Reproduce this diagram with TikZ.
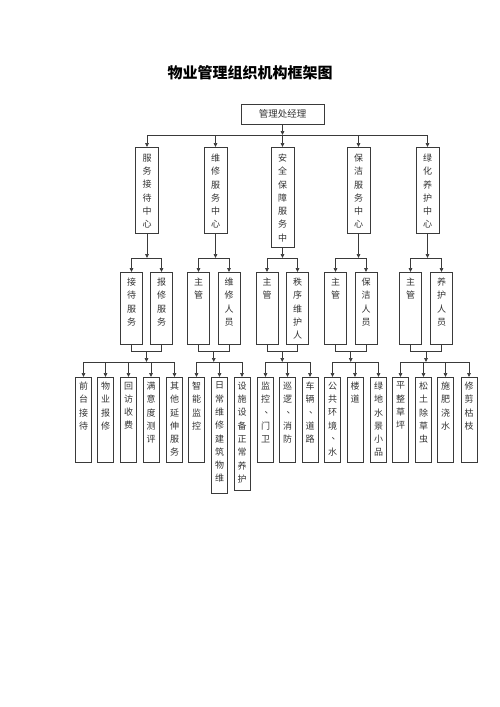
\documentclass[tikz,border=0pt]{standalone}
\usepackage{fontspec}
\setmainfont{Noto Sans CJK SC}
\usetikzlibrary{arrows.meta,calc}
\definecolor{linec}{HTML}{3A3A3A}
\definecolor{txtc}{HTML}{333333}
\newcommand{\vstk}[1]{\vstkA#1\relax}
\def\vstkA#1#2\relax{#1\ifx\relax#2\relax\else\par\vstkA#2\relax\fi}
\newcommand{\vt}[4]{\parbox[c][#2][t]{#1}{\centering\fontsize{9}{13.3}\selectfont\vspace*{#3}\vstk{#4}}}
\newcommand{\dn}{\makebox[1em][l]{\hspace{0.4em}\raisebox{0.3em}[0.6em][0pt]{、}}}
\tikzset{
  ln/.style={draw=linec, line width=0.7pt},
  arr/.style={ln, -{Triangle[length=4pt,width=3.6pt]}},
  vb/.style={draw=linec, line width=0.8pt, inner xsep=0pt, inner ysep=0pt, anchor=north, text=txtc},
}
\begin{document}
\begin{tikzpicture}[x=1pt,y=-1pt]
\useasboundingbox (0,0) rectangle (500,707);
\fill[white] (0,0) rectangle (500,707);
% title
\node[font=\fontsize{15}{15}\selectfont\bfseries] (title) at (250,73) {物业管理组织机构框架图};
% top
\node[draw=linec, line width=0.8pt, minimum width=83pt, minimum height=20pt, inner sep=0pt, text=txtc, font=\fontsize{9.5}{10}\selectfont] (top) at (282.5,114) {管理处经理};
% level 2
\node[vb] (A) at (147,147) {\vt{23pt}{86pt}{6.5pt}{服务接待中心}};
\node[vb] (B) at (215.5,147) {\vt{23pt}{86pt}{6.5pt}{维修服务中心}};
\node[vb] (C) at (282.5,147) {\vt{23pt}{100pt}{6.5pt}{安全保障服务中}};
\node[vb] (D) at (358.5,147) {\vt{23pt}{86pt}{6.5pt}{保洁服务中心}};
\node[vb] (E) at (427.5,147) {\vt{23pt}{86pt}{6.5pt}{绿化养护中心}};
% level 3
\node[vb] (A1) at (131.5,272) {\vt{22pt}{72pt}{5.5pt}{接待服务}};
\node[vb] (A2) at (161.5,272) {\vt{22pt}{72pt}{5.5pt}{报修服务}};
\node[vb] (B1) at (198.5,272) {\vt{22pt}{72pt}{5.5pt}{主管}};
\node[vb] (B2) at (229,272) {\vt{22pt}{72pt}{5.5pt}{维修人员}};
\node[vb] (C1) at (267,272) {\vt{22pt}{72pt}{5.5pt}{主管}};
\node[vb] (C2) at (297.5,272) {\vt{22pt}{72pt}{5.5pt}{秩序维护人}};
\node[vb] (D1) at (335.5,272) {\vt{22pt}{72pt}{5.5pt}{主管}};
\node[vb] (D2) at (366,272) {\vt{22pt}{72pt}{5.5pt}{保洁人员}};
\node[vb] (E1) at (410.5,272) {\vt{22pt}{72pt}{5.5pt}{主管}};
\node[vb] (E2) at (441.5,272) {\vt{22pt}{72pt}{5.5pt}{养护人员}};
% level 4
\node[vb] (a1) at (83.5,377) {\vt{16pt}{85pt}{4.5pt}{前台接待}};
\node[vb] (a2) at (105.5,377) {\vt{16pt}{85pt}{4.5pt}{物业报修}};
\node[vb] (a3) at (128.5,377) {\vt{16pt}{85pt}{4.5pt}{回访收费}};
\node[vb] (a4) at (151,377) {\vt{16pt}{85pt}{4.5pt}{满意度测评}};
\node[vb] (a5) at (174.5,377) {\vt{16pt}{85pt}{4.5pt}{其他延伸服务}};
\node[vb] (b1) at (196.5,377) {\vt{16pt}{85pt}{4.5pt}{智能监控}};
\node[vb] (b2) at (219.5,377) {\vt{16pt}{116pt}{4.5pt}{日常维修建筑物维}};
\node[vb] (b3) at (242,377) {\vt{16pt}{113pt}{4.5pt}{设施设备正常养护}};
\node[vb] (c1) at (265.5,377) {\vt{16pt}{85pt}{4.5pt}{监控\dn 门卫}};
\node[vb] (c2) at (287.5,377) {\vt{16pt}{85pt}{4.5pt}{巡逻\dn 消防}};
\node[vb] (c3) at (310,377) {\vt{16pt}{85pt}{4.5pt}{车辆\dn 道路}};
\node[vb] (d1) at (332.5,377) {\vt{16pt}{85pt}{4.5pt}{公共环境\dn 水}};
\node[vb] (d2) at (355,377) {\vt{16pt}{85pt}{4.5pt}{楼道}};
\node[vb] (d3) at (378.5,377) {\vt{16pt}{85pt}{4.5pt}{绿地水景小品}};
\node[vb] (e1) at (400.5,377) {\vt{16pt}{85pt}{4.5pt}{平整草坪}};
\node[vb] (e2) at (423.5,377) {\vt{16pt}{85pt}{4.5pt}{松土除草虫}};
\node[vb] (e3) at (445.5,377) {\vt{16pt}{85pt}{4.5pt}{施肥浇水}};
\node[vb] (e4) at (469,377) {\vt{16pt}{85pt}{4.5pt}{修剪枯枝}};
% level coordinates
\coordinate (y1) at (0,135);
\coordinate (y3) at (0,258);
\coordinate (y4) at (0,351);
\coordinate (y5) at (0,362);
% top to level 2
\draw[arr] (top.south) -- (top.south |- y1);
\draw[ln] (A.north |- y1) -- (E.north |- y1);
\foreach \n in {A,B,C,D,E} \draw[arr] (\n.north |- y1) -- (\n.north);
% level 2 to level 3
\foreach \p in {A,B,C,D,E} {
  \draw[arr] (\p.south) -- (\p.south |- y3);
  \draw[ln] (\p1.north |- y3) -- (\p2.north |- y3);
  \draw[arr] (\p1.north |- y3) -- (\p1.north);
  \draw[arr] (\p2.north |- y3) -- (\p2.north);
  \draw[ln] (\p1.south) -- (\p1.south |- y4) -- (\p2.south |- y4) -- (\p2.south);
  \coordinate (\p m) at ($(\p1.south |- y4)!0.5!(\p2.south |- y4)$);
  \draw[arr] (\p m) -- (\p m |- y5);
}
% level 4 bars
\draw[ln] (a1.north |- y5) -- (a5.north |- y5);
\draw[ln] (b1.north |- y5) -- (b3.north |- y5);
\draw[ln] (c1.north |- y5) -- (c3.north |- y5);
\draw[ln] (d1.north |- y5) -- (d3.north |- y5);
\draw[ln] (e1.north |- y5) -- (e4.north |- y5);
\foreach \n in {a1,a2,a3,a4,a5,b1,b2,b3,c1,c2,c3,d1,d2,d3,e1,e2,e3,e4}
  \draw[arr] (\n.north |- y5) -- (\n.north);
\end{tikzpicture}
\end{document}
